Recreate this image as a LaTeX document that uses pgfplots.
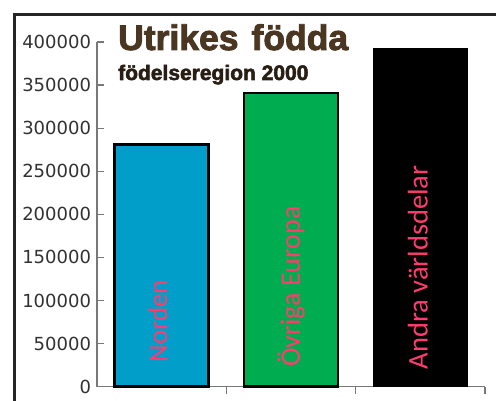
\documentclass[border=0pt]{standalone}
\usepackage{fontspec}
\setmainfont{DejaVu Sans}
\newfontfamily\titlefont{Liberation Sans Bold}[FakeBold=2.5]
\newfontfamily\labelfont{Carlito}
\usepackage{pgfplots}
\pgfplotsset{compat=1.18}
\definecolor{nordblue}{RGB}{0,158,200}
\definecolor{eurgreen}{RGB}{0,172,80}
\definecolor{lblpink}{RGB}{255,60,110}
\definecolor{titlebrown}{RGB}{75,54,34}
\definecolor{subbrown}{RGB}{40,30,20}
\definecolor{axgrey}{RGB}{120,120,120}
\definecolor{ticktext}{RGB}{50,50,50}
\begin{document}
\begin{tikzpicture}
\useasboundingbox (0,0) rectangle (496bp,401bp);
\fill[white] (0,0) rectangle (496bp,401bp);
\draw[line width=3bp, black!85, line cap=rect] (14bp,0) -- (14bp,386bp) -- (497bp,386bp);
\begin{axis}[
  scale only axis,
  width=388bp, height=344.7bp,
  at={(97bp,14.3bp)}, anchor=south west,
  xmin=-0.5, xmax=2.5,
  ymin=0, ymax=400000,
  axis lines=left,
  axis line style={-, axgrey, line width=1.3bp},
  xtick={0.5,1.5,2.5}, xticklabels={},
  ytick={0,50000,...,400000},
  scaled y ticks=false,
  yticklabel style={/pgf/number format/fixed, /pgf/number format/1000 sep={}, font=\fontsize{18bp}{20bp}\selectfont, text=ticktext, xshift=-2.5bp},
  /pgf/number format/assume math mode=true,
  tick align=inside,
  major tick length=7bp,
  tick style={axgrey, line width=1.3bp},
  ybar, bar width=94bp,
  clip=false,
]
\addplot[bar shift=0pt, fill=nordblue, draw=black, line width=2.5bp] coordinates {(0,281000)};
\addplot[bar shift=0pt, fill=eurgreen, draw=black, line width=2.5bp] coordinates {(1,341000)};
\addplot[bar shift=0pt, fill=black, draw=black, line width=1bp] coordinates {(2,392000)};
\node[rotate=90, anchor=west, text=lblpink, font=\labelfont\fontsize{27bp}{30bp}\selectfont, inner sep=0pt] at (axis cs:-0.03,28000) {Norden};
\node[rotate=90, anchor=west, text=lblpink, font=\labelfont\fontsize{28bp}{30bp}\selectfont, inner sep=0pt] at (axis cs:1.0,23000) {Övriga Europa};
\node[rotate=90, anchor=west, text=lblpink, font=\labelfont\fontsize{28.5bp}{30bp}\selectfont, inner sep=0pt] at (axis cs:1.98,20000) {Andra världsdelar};
\end{axis}
\node[anchor=base west, inner sep=0pt, text=titlebrown, font=\titlefont\fontsize{35.5bp}{40bp}\selectfont] at (118bp,351bp) {Utrikes\hspace{13bp}födda};
\node[anchor=base west, inner sep=0pt, text=subbrown, font=\titlefont\fontsize{21bp}{24bp}\selectfont] at (118bp,321bp) {födelseregion 2000};
\end{tikzpicture}
\end{document}
